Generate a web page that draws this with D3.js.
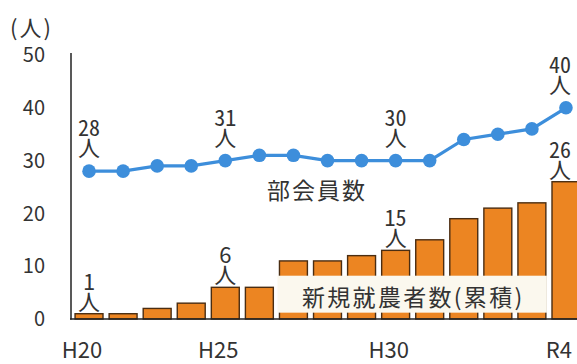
<!DOCTYPE html>
<html>
<head>
<meta charset="utf-8">
<script src="https://cdn.jsdelivr.net/npm/d3@7"></script>
<style>
  html, body { margin: 0; padding: 0; background: #ffffff; }
  svg { display: block; font-family: "Noto Sans CJK JP", "Noto Sans", sans-serif; }
  .callout {
    font-family: "Noto Sans CJK JP", "Noto Sans", sans-serif;
    font-size: 22px;
    line-height: 22px;
    color: #333333;
    writing-mode: vertical-rl;
    white-space: nowrap;
    margin: 0;
  }
  .callout .num { text-combine-upright: all; }
</style>
</head>
<body>
<svg id="chart" width="577" height="364"></svg>
<script>
// Fiscal years, H20 (2008) through R4 (2022)
const years = ["H20", "H21", "H22", "H23", "H24", "H25", "H26", "H27", "H28", "H29", "H30", "R1", "R2", "R3", "R4"];
// 部会員数 (members of the growers' group)
const members = [28, 28, 29, 29, 30, 31, 31, 30, 30, 30, 30, 34, 35, 36, 40];
// 新規就農者数 (cumulative new farmers)
const newFarmers = [1, 1, 2, 3, 6, 6, 11, 11, 12, 13, 15, 19, 21, 22, 26];
// Years that get an axis label and value callouts
const labeledYears = ["H20", "H25", "H30", "R4"];
const yTicks = [0, 10, 20, 30, 40, 50];

const W = 577, H = 364;
const svg = d3.select("#chart");

// Callouts for H25 / H30 sit one column to the left of their year
const labelShift = { H20: 0, H25: -1, H30: -1, R4: 0 };

const x = d3.scaleBand()
  .domain(d3.range(years.length))
  .range([72, 583])
  .paddingInner(0.18)
  .paddingOuter(0.09);
const cx = i => x(i) + x.bandwidth() / 2;

const y = d3.scaleLinear().domain([0, 50]).range([319, 55]);

const textColor = "#333333";
const barFill = "#ec8522";
const barStroke = "#4a2d12";
const lineColor = "#3d8edb";

// Bars
svg.append("g").selectAll("rect")
  .data(newFarmers)
  .join("rect")
  .attr("x", (d, i) => x(i))
  .attr("y", d => y(d))
  .attr("width", x.bandwidth())
  .attr("height", d => y(0) - y(d))
  .attr("fill", barFill)
  .attr("stroke", barStroke)
  .attr("stroke-width", 1.4);

// Series name band over the bars
const bandLeft = x(6) - 2;
const bandRight = x(13) + x.bandwidth() + 1;
svg.append("rect")
  .attr("x", bandLeft)
  .attr("y", y(8.2))
  .attr("width", bandRight - bandLeft)
  .attr("height", y(1.2) - y(8.2))
  .attr("fill", "#fbf8ee");
svg.append("text")
  .attr("x", 302)
  .attr("y", y(2.5))
  .attr("font-size", 23)
  .attr("letter-spacing", 2.3)
  .attr("fill", textColor)
  .text("新規就農者数(累積)");

// Axes lines
svg.append("line")
  .attr("x1", 71).attr("x2", 71)
  .attr("y1", 53).attr("y2", y(0) + 0.5)
  .attr("stroke", "#222").attr("stroke-width", 1.5);
svg.append("line")
  .attr("x1", 70).attr("x2", W)
  .attr("y1", y(0)).attr("y2", y(0))
  .attr("stroke", "#222").attr("stroke-width", 1.6);

// Members line and dots
const line = d3.line().x((d, i) => cx(i)).y(d => y(d));
svg.append("path")
  .datum(members)
  .attr("d", line)
  .attr("fill", "none")
  .attr("stroke", lineColor)
  .attr("stroke-width", 3.2);
svg.append("g").selectAll("circle")
  .data(members)
  .join("circle")
  .attr("cx", (d, i) => cx(i))
  .attr("cy", d => y(d))
  .attr("r", 6.8)
  .attr("fill", lineColor);

svg.append("text")
  .attr("x", 267)
  .attr("y", 199)
  .attr("font-size", 23)
  .attr("letter-spacing", 2)
  .attr("fill", textColor)
  .text("部会員数");

// Y axis tick labels
svg.append("g").selectAll("text")
  .data(yTicks)
  .join("text")
  .attr("x", 45)
  .attr("y", d => y(d))
  .attr("dy", "0.36em")
  .attr("text-anchor", "end")
  .attr("font-size", 20)
  .attr("fill", textColor)
  .text(d => d);

svg.append("text")
  .attr("x", 10)
  .attr("y", 36)
  .attr("font-size", 22)
  .attr("letter-spacing", 2)
  .attr("fill", textColor)
  .text("(人)");

// Stacked callout (value above 人) set as one vertical line of text;
// numCenterY is the vertical centre of the value. Kept inside the right edge.
function callout(px, numCenterY, value, spacing) {
  const cxc = Math.min(px, W - 17);
  const fo = svg.append("foreignObject")
    .attr("x", cxc - 11)
    .attr("y", numCenterY - 11)
    .attr("width", 22)
    .attr("height", 60)
    .style("overflow", "visible");
  const div = fo.append("xhtml:div")
    .attr("class", "callout")
    .style("letter-spacing", spacing + "px");
  div.append("xhtml:span").attr("class", "num").text(value);
  div.append("xhtml:span").text("人");
}

// X axis labels and value callouts
labeledYears.forEach(yr => {
  const i = years.indexOf(yr);
  const slot = i + labelShift[yr];
  const px = cx(slot);

  svg.append("text")
    .attr("x", px - 7)
    .attr("y", 358)
    .attr("text-anchor", "middle")
    .attr("font-size", 22)
    .attr("fill", textColor)
    .text(yr);

  callout(px, y(members[slot]) - 45, members[i], 2);
  callout(px, y(newFarmers[slot]) - 34, newFarmers[i], 0);
});
</script>
</body>
</html>
